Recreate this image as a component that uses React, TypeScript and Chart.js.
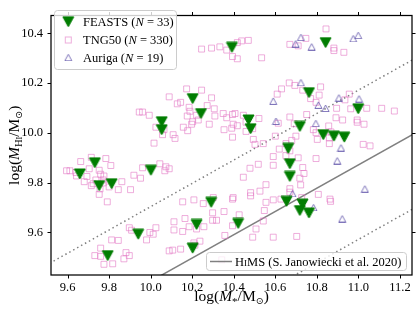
import React, { useEffect, useRef } from "react";
import { Chart, registerables } from "chart.js";

Chart.register(...registerables);

const SERIF = '"Liberation Serif", "Times New Roman", serif';

const xTicks = [9.6, 9.8, 10.0, 10.2, 10.4, 10.6, 10.8, 11.0, 11.2];
const yTicks = [9.6, 9.8, 10.0, 10.2, 10.4];
const xRange = [9.52, 11.258];
const yRange = [9.429, 10.472];

const feastsX = [10.391, 10.842, 10.202, 10.242, 10.053, 10.053, 9.731, 9.659, 10.001, 9.752, 9.812, 10.471, 10.481, 10.762, 10.999, 10.718, 10.831, 10.882, 10.932, 10.662, 10.67, 10.67, 10.654, 10.731, 10.718, 10.762, 10.421, 10.291, 10.221, 9.94, 10.202, 9.793];
const feastsY = [10.344, 10.363, 10.138, 10.078, 10.045, 10.013, 9.88, 9.835, 9.85, 9.788, 9.796, 10.052, 10.017, 10.162, 10.097, 10.026, 9.993, 9.987, 9.983, 9.938, 9.876, 9.825, 9.725, 9.714, 9.688, 9.678, 9.636, 9.721, 9.632, 9.593, 9.537, 9.507];

const aurigaX = [10.723, 10.698, 10.775, 10.975, 10.999, 10.723, 10.59, 10.906, 11.003, 10.807, 10.842, 10.603, 10.795, 10.916, 10.898, 11.031, 10.683, 10.784, 10.922];
const aurigaY = [10.385, 10.359, 10.347, 10.38, 10.393, 10.203, 10.129, 10.142, 10.138, 10.113, 10.1, 10.048, 10.039, 9.941, 9.889, 9.776, 9.757, 9.701, 9.656];

const tngX = [
  10.245, 10.293, 10.333, 10.366, 10.173, 10.245, 10.089, 10.128, 10.144, 10.293, 10.272, 9.945, 9.961, 9.993, 10.185, 10.189, 10.176, 10.221, 10.202, 10.229,
  10.309, 10.349, 10.394, 10.197, 10.282, 10.157, 10.178, 10.353, 10.397, 10.025, 10.064, 10.057, 10.108, 10.117, 10.016, 10.394, 10.306,
  9.714, 9.663, 9.784, 9.808, 9.704, 9.595, 9.611, 9.64, 9.752, 9.759, 9.775, 9.643, 9.693, 9.68, 9.736, 9.771, 9.723, 9.771, 9.714, 9.756, 9.8, 9.844, 9.903, 9.861,
  9.752, 9.791, 9.919, 9.961, 9.951, 10.044, 10.073, 10.089, 10.068,
  10.154, 10.208, 10.253, 10.301, 10.394, 10.298, 10.353, 10.298, 10.317, 10.165, 10.112, 10.112, 10.154, 10.185, 10.221, 10.256, 9.897, 9.908, 9.996, 10.025,
  10.012, 9.98, 9.812, 9.844, 9.759, 9.731, 9.759, 9.775, 9.817, 9.881, 9.897, 9.871, 10.089, 10.106, 10.144, 10.208, 10.237, 10.213, 10.357, 10.342,
  10.844, 10.438, 10.47, 10.417, 10.67, 10.71, 10.747, 10.882, 10.882, 10.93, 10.394, 10.417, 10.534, 10.667, 10.694, 10.63, 10.609, 10.818, 10.811, 10.77,
  10.796, 10.956, 10.935, 10.732, 10.406, 10.446, 10.521, 10.67, 10.751, 10.895, 10.892, 10.924, 10.963, 11.04, 11.112, 11.173, 10.994, 10.994, 11.027,
  10.39, 10.459, 10.491, 10.494, 10.502, 10.542, 10.614, 10.691, 10.6, 10.651, 10.699, 10.783, 10.796, 10.857, 10.868, 10.86, 10.86, 10.802, 11.023, 11.056,
  10.619, 10.651, 10.59, 10.59, 10.71, 10.796, 10.732, 10.738, 10.518, 10.478, 10.446, 10.555, 10.722, 10.67, 10.67, 10.59, 10.555, 10.481, 10.481, 10.526,
  10.397, 10.807, 10.863, 10.866, 10.727, 10.627, 10.547, 10.426, 10.542, 10.507, 10.491, 10.59, 10.703, 10.394, 10.718, 10.459, 10.417, 10.366, 10.679, 10.67,
];
const tngY = [
  10.337, 10.341, 10.346, 10.333, 10.177, 10.172, 10.145, 10.117, 10.123, 10.141, 10.11, 10.084, 10.084, 10.071, 10.103, 10.087, 10.068, 10.071, 10.045, 10.052,
  10.068, 10.078, 10.074, 10.035, 10.035, 10.023, 10.009, 10.013, 10.035, 10.023, 10.013, 9.993, 9.993, 9.978, 9.959, 9.983, 10.097,
  9.902, 9.885, 9.897, 9.869, 9.856, 9.848, 9.848, 9.841, 9.85, 9.834, 9.827, 9.827, 9.825, 9.804, 9.811, 9.811, 9.796, 9.799, 9.788, 9.775, 9.783, 9.772, 9.772, 9.804,
  9.753, 9.723, 9.83, 9.86, 9.818, 9.876, 9.864, 9.856, 9.848,
  9.723, 9.731, 9.716, 9.74, 9.734, 9.679, 9.684, 9.649, 9.649, 9.656, 9.643, 9.61, 9.604, 9.623, 9.614, 9.623, 9.619, 9.609, 9.6, 9.619,
  9.593, 9.57, 9.57, 9.568, 9.537, 9.507, 9.504, 9.472, 9.474, 9.519, 9.507, 9.494, 9.526, 9.529, 9.533, 9.558, 9.565, 9.549, 9.588, 9.49,
  10.418, 10.37, 10.372, 10.363, 10.356, 10.35, 10.38, 10.341, 10.331, 10.324, 10.307, 10.298, 10.302, 10.201, 10.191, 10.177, 10.156, 10.185, 10.152, 10.138,
  10.123, 10.156, 10.133, 10.172, 10.078, 10.071, 10.058, 10.064, 10.074, 10.099, 10.061, 10.052, 10.097, 10.099, 10.099, 10.088, 10.052, 10.043, 10.035,
  10.019, 10.006, 10.017, 9.974, 9.954, 9.957, 10.039, 10.037, 9.987, 9.957, 9.987, 10.013, 10.001, 10.028, 10.004, 9.98, 9.957, 9.974, 9.954, 9.948,
  9.935, 9.909, 9.905, 9.87, 9.9, 9.897, 9.861, 9.837, 9.874, 9.858, 9.822, 9.792, 9.791, 9.776, 9.762, 9.731, 9.721, 9.76, 9.747, 9.766,
  9.74, 9.753, 9.734, 9.725, 9.74, 9.734, 9.688, 9.671, 9.646, 9.614, 9.581, 9.581, 9.584, 9.627, 9.818, 10.043, 10.029, 10.061, 9.97, 9.928,
];

const himsX = [9.4, 11.4];
const himsY = [9.123, 10.059];
const upperY = [9.423, 10.359];
const lowerY = [8.823, 9.759];

const FEASTS_COLOR = "#007d00";
const TNG_COLOR = "rgba(226,120,196,0.6)";
const AURIGA_COLOR = "rgba(96,84,170,0.8)";
const LINE_COLOR = "#808080";

function pts(xs: number[], ys: number[]) {
  return xs.map((x, i) => ({ x, y: ys[i] }));
}

function makeTriangle(w: number, h: number, down: boolean, fill: string | null, stroke: string | null, lw: number) {
  const pad = 1;
  const c = document.createElement("canvas");
  c.width = w + 2 * pad;
  c.height = h + 2 * pad;
  const g = c.getContext("2d")!;
  g.beginPath();
  if (down) {
    g.moveTo(pad, pad);
    g.lineTo(pad + w, pad);
    g.lineTo(pad + w / 2, pad + h);
  } else {
    g.moveTo(pad, pad + h);
    g.lineTo(pad + w, pad + h);
    g.lineTo(pad + w / 2, pad);
  }
  g.closePath();
  if (fill) {
    g.fillStyle = fill;
    g.fill();
  }
  if (stroke) {
    g.strokeStyle = stroke;
    g.lineWidth = lw;
    g.stroke();
  }
  return c;
}

type Seg = { t: string; f: string; dy?: number };

function richWidth(ctx: CanvasRenderingContext2D, segs: Seg[]) {
  let w = 0;
  for (const s of segs) {
    ctx.font = s.f;
    w += ctx.measureText(s.t).width;
  }
  return w;
}

function drawRich(ctx: CanvasRenderingContext2D, segs: Seg[], x: number, y: number, center: boolean) {
  const total = richWidth(ctx, segs);
  let cx = center ? x - total / 2 : x;
  ctx.textAlign = "left";
  ctx.textBaseline = "alphabetic";
  for (const s of segs) {
    ctx.font = s.f;
    ctx.fillText(s.t, cx, y + (s.dy || 0));
    cx += ctx.measureText(s.t).width;
  }
}

function roundRect(ctx: CanvasRenderingContext2D, x: number, y: number, w: number, h: number, r: number) {
  ctx.beginPath();
  ctx.moveTo(x + r, y);
  ctx.lineTo(x + w - r, y);
  ctx.arcTo(x + w, y, x + w, y + r, r);
  ctx.lineTo(x + w, y + h - r);
  ctx.arcTo(x + w, y + h, x + w - r, y + h, r);
  ctx.lineTo(x + r, y + h);
  ctx.arcTo(x, y + h, x, y + h - r, r);
  ctx.lineTo(x, y + r);
  ctx.arcTo(x, y, x + r, y, r);
  ctx.closePath();
}

export default function App() {
  const ref = useRef<HTMLCanvasElement>(null);

  useEffect(() => {
    const canvas = ref.current!;
    const feastsImg = makeTriangle(11, 10, true, FEASTS_COLOR, FEASTS_COLOR, 1);
    const aurigaImg = makeTriangle(7, 6.5, false, null, AURIGA_COLOR, 1);

    const F = (size: number, style = "") => `${style} ${size}px ${SERIF}`.trim();
    const SYM = (size: number) => `${size}px "DejaVu Sans", sans-serif`;

    const decor = {
      id: "decor",
      afterDraw(chart: any) {
        const { ctx, chartArea: a, scales } = chart;
        ctx.save();
        // frame
        ctx.strokeStyle = "#000";
        ctx.lineWidth = 1.25;
        ctx.strokeRect(a.left, a.top, a.right - a.left, a.bottom - a.top);
        // ticks
        ctx.lineWidth = 1;
        ctx.beginPath();
        for (const v of xTicks) {
          const px = Math.round(scales.x.getPixelForValue(v)) + 0.5;
          ctx.moveTo(px, a.bottom);
          ctx.lineTo(px, a.bottom + 3.5);
          ctx.moveTo(px, a.top);
          ctx.lineTo(px, a.top - 3.5);
        }
        for (const v of yTicks) {
          const py = Math.round(scales.y.getPixelForValue(v)) + 0.5;
          ctx.moveTo(a.left - 3.5, py);
          ctx.lineTo(a.left, py);
          ctx.moveTo(a.right, py);
          ctx.lineTo(a.right + 3.5, py);
        }
        ctx.stroke();

        // legend 1
        ctx.fillStyle = "rgba(255,255,255,0.8)";
        ctx.strokeStyle = "#cccccc";
        ctx.lineWidth = 1;
        roundRect(ctx, 54.5, 10.5, 122, 59, 3);
        ctx.fill();
        ctx.stroke();
        const mx = 68.3;
        ctx.drawImage(feastsImg, mx - feastsImg.width / 2, 21.7 - feastsImg.height / 2);
        ctx.strokeStyle = TNG_COLOR;
        ctx.strokeRect(mx - 3, 37, 6, 6);
        ctx.drawImage(aurigaImg, mx - aurigaImg.width / 2, 57.3 - aurigaImg.height / 2);
        ctx.fillStyle = "#000";
        const fs = 12.5;
        drawRich(ctx, [{ t: "FEASTS (", f: F(fs) }, { t: "N", f: F(fs, "italic") }, { t: " = 33)", f: F(fs) }], 83, 26, false);
        drawRich(ctx, [{ t: "TNG50 (", f: F(fs) }, { t: "N", f: F(fs, "italic") }, { t: " = 330)", f: F(fs) }], 83, 44.3, false);
        drawRich(ctx, [{ t: "Auriga (", f: F(fs) }, { t: "N", f: F(fs, "italic") }, { t: " = 19)", f: F(fs) }], 83, 61.6, false);

        // legend 2
        ctx.fillStyle = "rgba(255,255,255,0.8)";
        ctx.strokeStyle = "#cccccc";
        roundRect(ctx, 206.5, 252.5, 200, 18, 3);
        ctx.fill();
        ctx.stroke();
        ctx.strokeStyle = LINE_COLOR;
        ctx.lineWidth = 1.5;
        ctx.beginPath();
        ctx.moveTo(210, 261.5);
        ctx.lineTo(232, 261.5);
        ctx.stroke();
        ctx.fillStyle = "#000";
        drawRich(
          ctx,
          [
            { t: "H", f: F(fs) },
            { t: "I", f: F(9) },
            { t: "MS (S. Janowiecki et al. 2020)", f: F(fs) },
          ],
          235,
          266,
          false
        );

        // x title
        const ts = 15.5;
        drawRich(
          ctx,
          [
            { t: "log(", f: F(ts) },
            { t: "M", f: F(ts, "italic") },
            { t: "*", f: F(11), dy: 4 },
            { t: "/M", f: F(ts) },
            { t: "⊙", f: SYM(9.5), dy: 3 },
            { t: ")", f: F(ts) },
          ],
          (a.left + a.right) / 2,
          301,
          true
        );
        // y title
        ctx.translate(19, (a.top + a.bottom) / 2);
        ctx.rotate(-Math.PI / 2);
        drawRich(
          ctx,
          [
            { t: "log(", f: F(ts) },
            { t: "M", f: F(ts, "italic") },
            { t: "H", f: F(10.5), dy: 3 },
            { t: "I", f: F(8), dy: 3 },
            { t: "/M", f: F(ts) },
            { t: "⊙", f: SYM(9.5), dy: 3 },
            { t: ")", f: F(ts) },
          ],
          0,
          0,
          true
        );
        ctx.restore();
      },
    };

    const chart = new Chart(canvas, {
      type: "scatter",
      data: {
        datasets: [
          {
            label: "FEASTS",
            data: pts(feastsX, feastsY),
            pointStyle: feastsImg as any,
            order: 0,
          },
          {
            label: "Auriga",
            data: pts(aurigaX, aurigaY),
            pointStyle: aurigaImg as any,
            order: 1,
          },
          {
            label: "TNG50",
            data: pts(tngX, tngY),
            pointStyle: "rect",
            pointRadius: 4.2,
            borderColor: TNG_COLOR,
            backgroundColor: "rgba(0,0,0,0)",
            borderWidth: 1,
            order: 2,
          },
          {
            label: "HIMS",
            data: pts(himsX, himsY),
            showLine: true,
            pointRadius: 0,
            borderColor: LINE_COLOR,
            borderWidth: 1.5,
            order: 3,
          },
          {
            label: "upper",
            data: pts(himsX, upperY),
            showLine: true,
            pointRadius: 0,
            borderColor: LINE_COLOR,
            borderWidth: 1.5,
            borderDash: [1.5, 3],
            order: 3,
          },
          {
            label: "lower",
            data: pts(himsX, lowerY),
            showLine: true,
            pointRadius: 0,
            borderColor: LINE_COLOR,
            borderWidth: 1.5,
            borderDash: [1.5, 3],
            order: 3,
          },
        ],
      },
      options: {
        responsive: false,
        animation: false,
        devicePixelRatio: 1,
        layout: { padding: { left: 0, right: 8, top: 7, bottom: 0 } },
        plugins: { legend: { display: false }, tooltip: { enabled: false } },
        scales: {
          x: {
            type: "linear",
            min: xRange[0],
            max: xRange[1],
            grid: { display: false, drawTicks: false },
            border: { display: false },
            ticks: {
              padding: 5,
              color: "#000",
              font: { family: SERIF, size: 12.5 },
              autoSkip: false,
              maxRotation: 0,
              callback: (v: any) => Number(v).toFixed(1),
            },
            afterBuildTicks: (s: any) => {
              s.ticks = xTicks.map((v) => ({ value: v }));
            },
            afterFit: (s: any) => {
              s.height = 40;
            },
          },
          y: {
            type: "linear",
            min: yRange[0],
            max: yRange[1],
            grid: { display: false, drawTicks: false },
            border: { display: false },
            ticks: {
              padding: 8,
              color: "#000",
              font: { family: SERIF, size: 12.5 },
              autoSkip: false,
              callback: (v: any) => Number(v).toFixed(1),
            },
            afterBuildTicks: (s: any) => {
              s.ticks = yTicks.map((v) => ({ value: v }));
            },
            afterFit: (s: any) => {
              s.width = 51;
            },
          },
        },
      },
      plugins: [decor],
    } as any);

    return () => chart.destroy();
  }, []);

  return (
    <div style={{ position: "absolute", left: 0, top: 0, width: 420, height: 315 }}>
      <canvas ref={ref} width={420} height={315} style={{ display: "block" }} />
    </div>
  );
}
